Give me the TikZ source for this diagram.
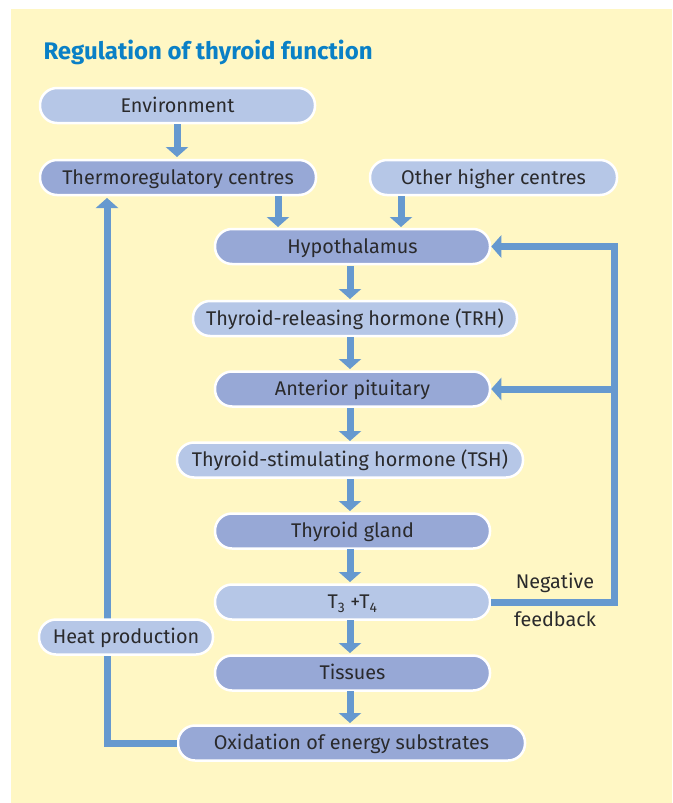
\documentclass[tikz,border=0pt]{standalone}
\usepackage{fontspec}
\setmainfont{Fira Sans}
\usetikzlibrary{arrows.meta}
\definecolor{bgyellow}{HTML}{FFF7C4}
\definecolor{boxdark}{HTML}{97A8D6}
\definecolor{boxlight}{HTML}{B6C7E7}
\definecolor{arrowblue}{HTML}{6699CF}
\definecolor{titleblue}{HTML}{0A80C6}
\definecolor{textdark}{HTML}{2A2A2C}
\tikzset{
  pill/.style={draw=white, line width=2.5pt, rounded corners=17pt, minimum height=35pt,
    inner sep=0pt, text height=13.8pt, text depth=0pt, text=textdark,
    font=\fontsize{19.8}{23}\selectfont, anchor=center},
  darkpill/.style={pill, fill=boxdark},
  lightpill/.style={pill, fill=boxlight},
  flow/.style={draw=arrowblue, line width=7pt, line join=miter, -{Triangle[width=22pt,length=10pt]}},
  fline/.style={draw=arrowblue, line width=7pt, line join=miter},
  lbl/.style={text=textdark, font=\fontsize{19.8}{23}\selectfont},
}
\begin{document}
\begin{tikzpicture}[x=1pt,y=-1pt]
\useasboundingbox (0,0) rectangle (672,803);
\fill[white] (0,0) rectangle (672,803);
\fill[bgyellow] (11,9) rectangle (672,803);
\node[anchor=base west, text=titleblue, font=\fontsize{24}{28}\selectfont\bfseries] (title) at (40,59) {Regulation of thyroid function};

\coordinate (fbr) at (614,602);
\coordinate (fbtop) at (614,246.5);
\coordinate (fbmid) at (614,389);
\coordinate (hl) at (107,743);
\coordinate (htop) at (107,198);

\node[lightpill, minimum width=275pt] (env) at (177.5,105.5) {Environment};
\node[darkpill, minimum width=276pt] (thermo) at (178,177.5) {Thermoregulatory centres};
\node[lightpill, minimum width=247pt] (other) at (493.5,177.5) {Other higher centres};
\node[darkpill, minimum width=275pt] (hypo) at (352.5,246.5) {Hypothalamus};
\node[lightpill, minimum width=324pt] (trh) at (355,318.5) {Thyroid-releasing hormone (TRH)};
\node[darkpill, minimum width=275pt] (ant) at (352.5,389) {Anterior pituitary};
\node[lightpill, minimum width=346pt] (tsh) at (350,460) {Thyroid-stimulating hormone (TSH)};
\node[darkpill, minimum width=275pt] (thy) at (352.5,531) {Thyroid gland};
\node[lightpill, minimum width=275pt] (t34) at (352.5,602) {T\textsubscript{3} +T\textsubscript{4}};
\node[darkpill, minimum width=275pt] (tis) at (352.5,673) {Tissues};
\node[darkpill, minimum width=347pt] (oxi) at (351.5,743) {Oxidation of energy substrates};

% heat loop
\draw[flow] (oxi.west) -- (hl) -- (htop);
\node[lightpill, minimum width=174pt] (heat) at (126,637) {Heat production};

% feedback
\draw[flow] (t34.east) -- (fbr) -- (fbtop) -- (hypo.east);
\draw[flow] (fbmid) -- (ant.east);

% down arrows
\draw[flow] (177,124) -- (177,157);
\draw[flow] (278,196) -- (278,227);
\draw[flow] (401,196) -- (401,227);
\draw[flow] (350,266) -- (350,299);
\draw[flow] (350,337) -- (350,369);
\draw[flow] (350,408) -- (350,441);
\draw[flow] (350,479) -- (350,511);
\draw[flow] (350,549) -- (350,582);
\draw[flow] (350,620) -- (350,653);
\draw[flow] (350,691) -- (350,723);

\node[lbl] (neg) at (555,583) {Negative};
\node[lbl] (fb) at (555,619) {feedback};
\end{tikzpicture}
\end{document}
